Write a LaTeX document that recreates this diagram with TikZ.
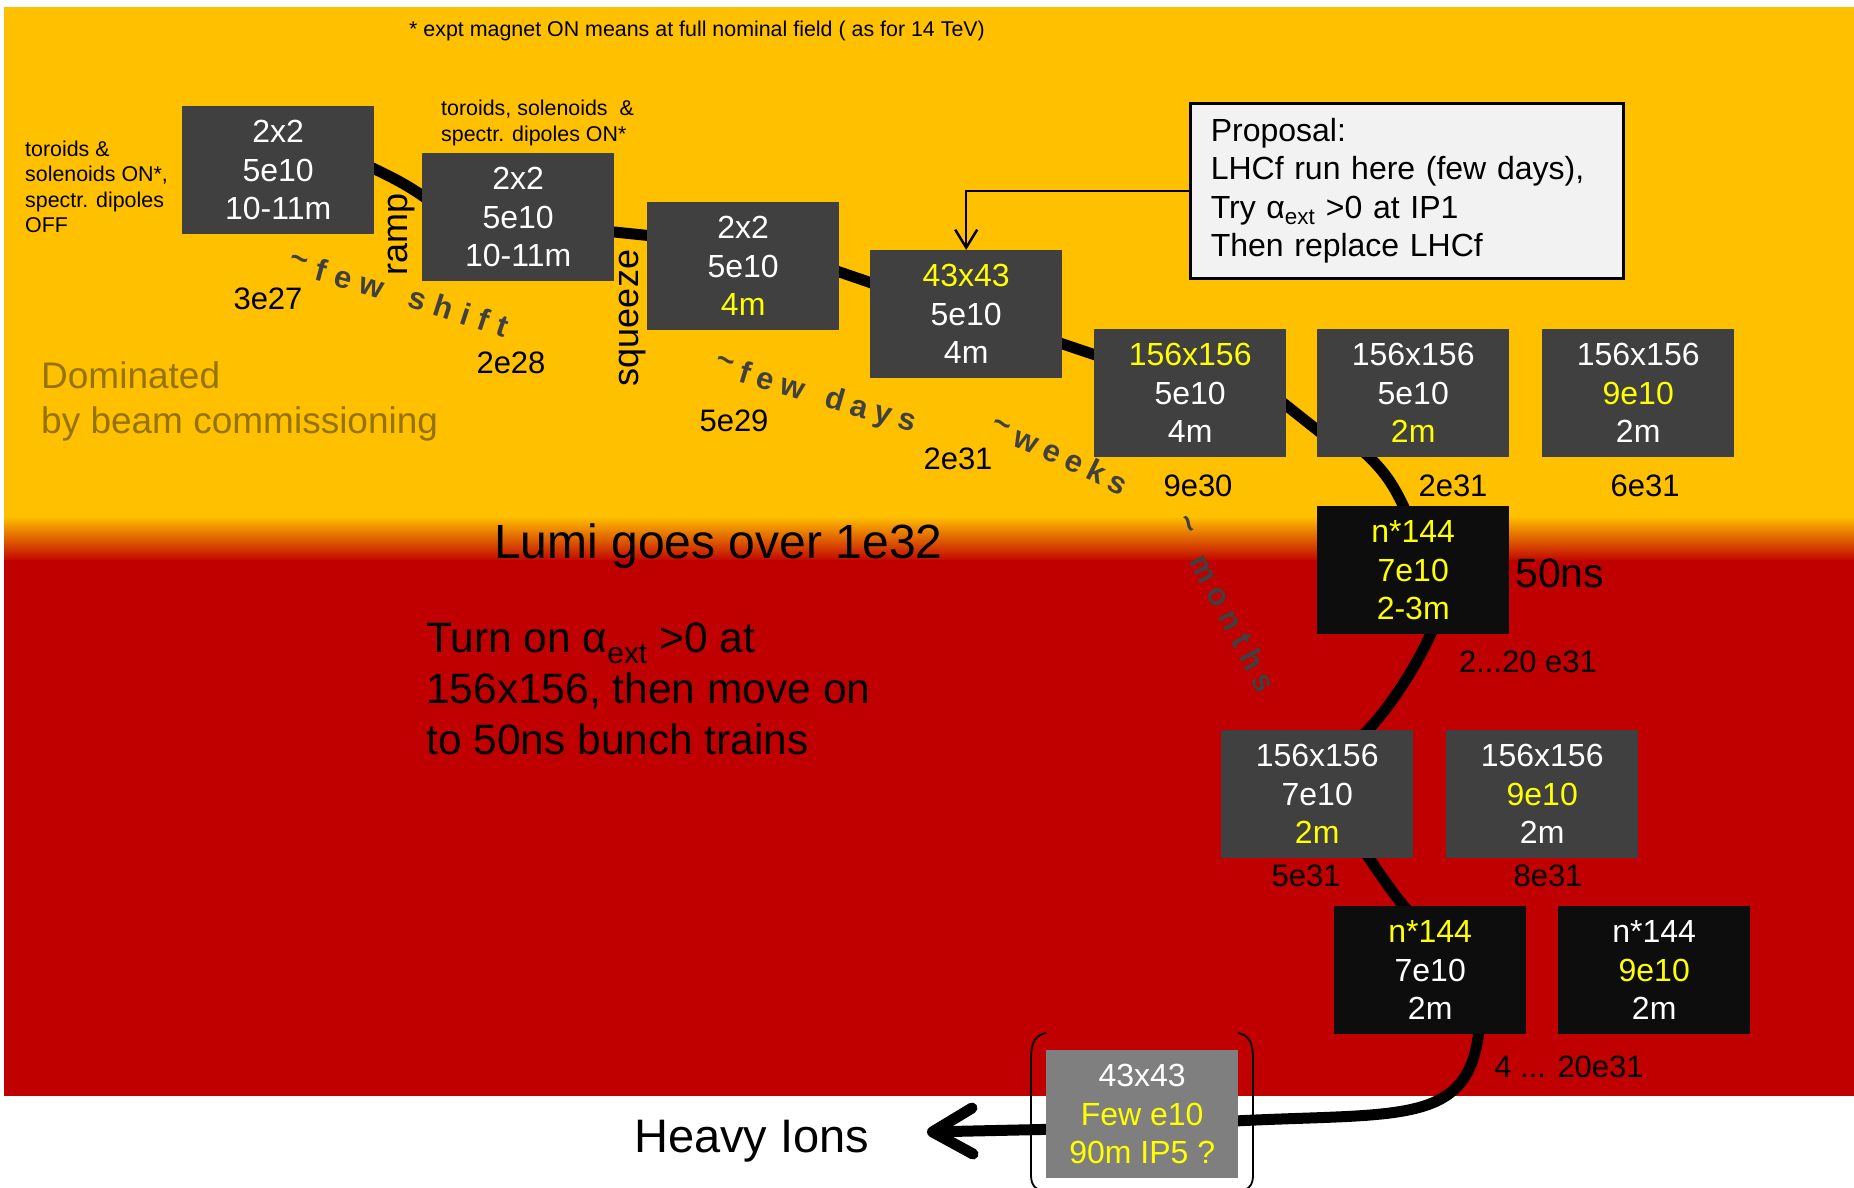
\documentclass[tikz,border=0pt]{standalone}
\usepackage{fontspec}
\setmainfont{Liberation Sans}
\usetikzlibrary{arrows.meta,decorations.text}

\definecolor{amber}{RGB}{255,192,0}
\definecolor{crimson}{RGB}{192,0,0}
\definecolor{slate}{RGB}{64,64,64}
\definecolor{coal}{RGB}{13,13,13}
\definecolor{ash}{RGB}{127,127,127}
\definecolor{lemon}{RGB}{255,255,0}
\definecolor{mustard}{RGB}{150,115,0}
\definecolor{paper}{RGB}{242,242,242}

\newcommand{\fsz}[2]{\fontsize{#1}{#2}\selectfont}
\newcommand{\yl}[1]{\textcolor{lemon}{#1}}
\newcommand{\curvefont}{\fsz{31}{33}\bfseries\color{slate}}
\newcommand{\tld}{\raisebox{0.22em}{\textasciitilde}}

\pgfdeclarelayer{back}
\pgfsetlayers{back,main}

\begin{document}
\begin{tikzpicture}[x=1pt,y=-1pt,
  stage/.style={anchor=north west,fill=slate,text=white,minimum width=192pt,minimum height=128pt,
    inner sep=0pt,align=center,font=\fsz{32}{38.5}},
  train/.style={stage,fill=coal},
  ionbox/.style={stage,fill=ash},
  lumi/.style={font=\fsz{31}{36}},
  note/.style={anchor=west,align=left,inner sep=0pt,font=\fsz{21.4}{25.5}},
  trail/.style={line width=11pt},
  sweep/.style={decorate,decoration={text along path,text align={fit to path},text={|\curvefont|#1}}},
  paren/.style={line width=1.8pt}]

  \useasboundingbox (0,0) rectangle (1854,1187);

  \node[stage] (S1) at (182,106) {2x2\\5e10\\10-11m};
  \node[stage] (S2) at (422,153) {2x2\\5e10\\10-11m};
  \node[stage] (S3) at (647,202) {2x2\\5e10\\\yl{4m}};
  \node[stage] (S4) at (870,250) {\yl{43x43}\\5e10\\4m};
  \node[stage] (S5) at (1094,329) {\yl{156x156}\\5e10\\4m};
  \node[stage] (S6) at (1317,329) {156x156\\5e10\\\yl{2m}};
  \node[stage] (S7) at (1542,329) {156x156\\\yl{9e10}\\2m};
  \node[train] (S8) at (1317,506) {\yl{n*144}\\\yl{7e10}\\\yl{2-3m}};
  \node[stage] (S9) at (1221,730) {156x156\\7e10\\\yl{2m}};
  \node[stage] (S10) at (1446,730) {156x156\\\yl{9e10}\\2m};
  \node[train] (S11) at (1334,906) {\yl{n*144}\\7e10\\2m};
  \node[train] (S12) at (1558,906) {n*144\\\yl{9e10}\\2m};
  \node[ionbox] (S13) at (1046,1050) {43x43\\\yl{Few e10}\\\yl{90m IP5 ?}};

  \node[anchor=west,inner sep=0pt,font=\fsz{47}{52}] (ions) at (634,1141) {Heavy Ions};
  \coordinate (tip) at (927,1132);

  \begin{pgfonlayer}{back}
    \fill[amber] (4,7) rectangle (1854,518);
    \shade[top color=amber,bottom color=crimson] (4,516) rectangle (1854,562);
    \fill[crimson] (4,560) rectangle (1854,1096);

    \path[draw,trail] ([shift={(-8,-5)}]S1.east) .. controls +(24,11) and +(-20,-15) .. ([shift={(8,-16)}]S2.west);
    \path[draw,trail] ([shift={(-8,14)}]S2.east) -- ([shift={(8,-30)}]S3.west);
    \path[draw,trail] ([shift={(-8,3)}]S3.east) -- ([shift={(8,-29)}]S4.west);
    \path[draw,trail] ([shift={(-8,27)}]S4.east) -- ([shift={(8,-36)}]S5.west);
    \path[draw,trail] ([shift={(-8,6)}]S5.east) -- ([shift={(8,43)}]S6.west);
    \path[draw,trail] ([shift={(-50,-6)}]S6.south) .. controls +(22,20) and +(-12,-26) .. ([shift={(-7,6)}]S8.north);
    \path[draw,trail] ([shift={(20,-6)}]S8.south) .. controls +(-16,37) and +(28,-28) .. ([shift={(45,6)}]S9.north);
    \path[draw,trail] ([shift={(48,-6)}]S9.south) .. controls +(10,15) and +(-12,-12) .. ([shift={(-21,6)}]S11.north);
    \path[draw,trail] ([shift={(49,-6)}]S11.south) .. controls +(-10,99) and +(170,-9) .. ([shift={(-8,7)}]S13.east);
    \path[draw,trail,-{Straight Barb[length=40pt,width=46pt,round]}] ([shift={(8,15)}]S13.west) -- (tip);
  \end{pgfonlayer}

  \draw[paren] (1046,1033) .. controls (1035,1035) and (1031,1043) .. (1031,1058) -- (1031,1175)
    .. controls (1031,1185) and (1035,1190) .. (1046,1192);
  \draw[paren] (1238,1033) .. controls (1249,1035) and (1253,1043) .. (1253,1058) -- (1253,1175)
    .. controls (1253,1185) and (1249,1190) .. (1238,1192);

  \node[draw,line width=2.5pt,fill=paper,anchor=north west,minimum width=433pt,minimum height=175pt,
    text width=392pt,inner xsep=20pt,align=left,font=\fsz{32}{38.5}] (Prop) at (1189,102)
    {Proposal:\\LHCf run here (few days),\\Try α\textsubscript{ext} >0 at IP1\\Then replace LHCf};
  \draw[line width=2.5pt,-{Straight Barb[length=18pt,width=22pt]}] (Prop.west) -| (S4.north);

  \node[note] (topnote) at (409,31) {* expt magnet ON means at full nominal field ( as for 14 TeV)};
  \node[note] (leftnote) at (25,187) {toroids \&\\solenoids ON*,\\spectr. dipoles\\OFF};
  \node[note] (midnote) at (441,123) {toroids, solenoids \ \&\\spectr. dipoles ON*};

  \node[rotate=90,font=\fsz{36}{40}] (ramp) at (402,234) {ramp};
  \node[rotate=90,font=\fsz{36}{40}] (squeeze) at (633,318) {squeeze};

  \node[anchor=west,align=left,inner sep=0pt,text=mustard,font=\fsz{37}{45}] (dom) at (41,401)
    {Dominated\\by beam commissioning};
  \node[anchor=west,inner sep=0pt,font=\fsz{48}{52}] (over) at (494,546) {Lumi goes over 1e32};
  \node[anchor=west,align=left,inner sep=0pt,font=\fsz{42.5}{51}] (turn) at (426,689)
    {Turn on α\textsubscript{ext} >0 at\\156x156, then move on\\to 50ns bunch trains};
  \node[anchor=west,inner sep=0pt,font=\fsz{41}{45}] (ns) at (1515,573) {50ns};

  \node[lumi] (N1) at (268,299) {3e27};
  \node[lumi] (N2) at (511,363) {2e28};
  \node[lumi] (N3) at (734,421) {5e29};
  \node[lumi] (N4) at (958,459) {2e31};
  \node[lumi] (N5) at (1198,486) {9e30};
  \node[lumi] (N6) at (1453,486) {2e31};
  \node[lumi] (N7) at (1645,486) {6e31};
  \node[lumi] (N8) at (1528,662) {2...20 e31};
  \node[lumi] (N9) at (1306,876) {5e31};
  \node[lumi] (N10) at (1548,876) {8e31};
  \node[lumi] (N11) at (1569,1067) {4 ... 20e31};

  \path[sweep={{\tld}few shift}] (287,273) .. controls (360,292) and (430,313) .. (504,338);
  \path[sweep={{\tld}few days}] (713,374) .. controls (775,393) and (850,415) .. (913,432);
  \path[sweep={{\tld}weeks}] (988,437) .. controls (1030,452) and (1075,472) .. (1121,496);
  \path[sweep={{\tld} months}] (1169,524) -- (1259,695);
\end{tikzpicture}
\end{document}
